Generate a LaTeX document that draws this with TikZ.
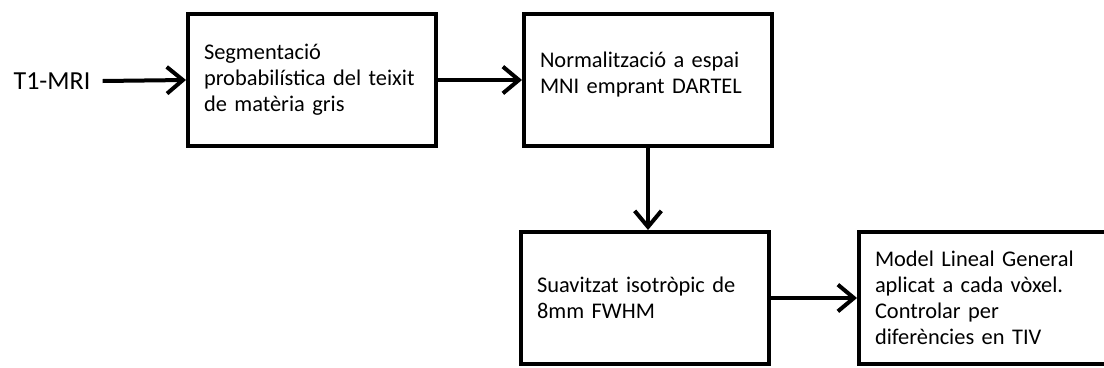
\documentclass[tikz,border=0pt]{standalone}
\usepackage{fontspec}
\setmainfont[WordSpace=0.6]{Carlito}
\usetikzlibrary{arrows.meta,positioning}

\begin{document}
\begin{tikzpicture}[x=0.75pt, y=-0.75pt,
        stepbox/.style={draw, line width=3pt, minimum width=186pt, minimum height=99pt,
            text width=162pt, inner xsep=12pt, align=left,
            font=\fontsize{16.8}{19.5}\selectfont},
        flow/.style={line width=3pt, -{Straight Barb[length=12pt, width=20pt, line width=3pt]}}]
    \path[use as bounding box, clip] (0, 0) rectangle (1104, 368);

    % input and processing steps
    \node [inner xsep=9pt] (mri) at (52, 81) {\fontsize{19.5}{23}\selectfont T1-MRI};
    \node [stepbox] (seg) at (312, 80) {Segmentació\\ probabilística del teixit\\ de matèria gris};
    \node [stepbox] (norm) at (648, 80) {Normalització a espai\\ MNI emprant DARTEL\\[-8pt]\mbox{}};
    \node [stepbox] (suav) at (645, 298) {Suavitzat isotròpic de\\ 8mm FWHM};
    \node [stepbox] (glm) at (983, 298) {Model Lineal General\\ aplicat a cada vòxel.\\ Controlar per\\ diferències en TIV};

    % connectors
    \draw [flow] (mri.east) -- (seg.west);
    \draw [flow] (seg.east) -- (norm.west);
    \draw [flow] (norm.south) -- (norm.south |- suav.north);
    \draw [flow] (suav.east) -- (glm.west);
\end{tikzpicture}
\end{document}
